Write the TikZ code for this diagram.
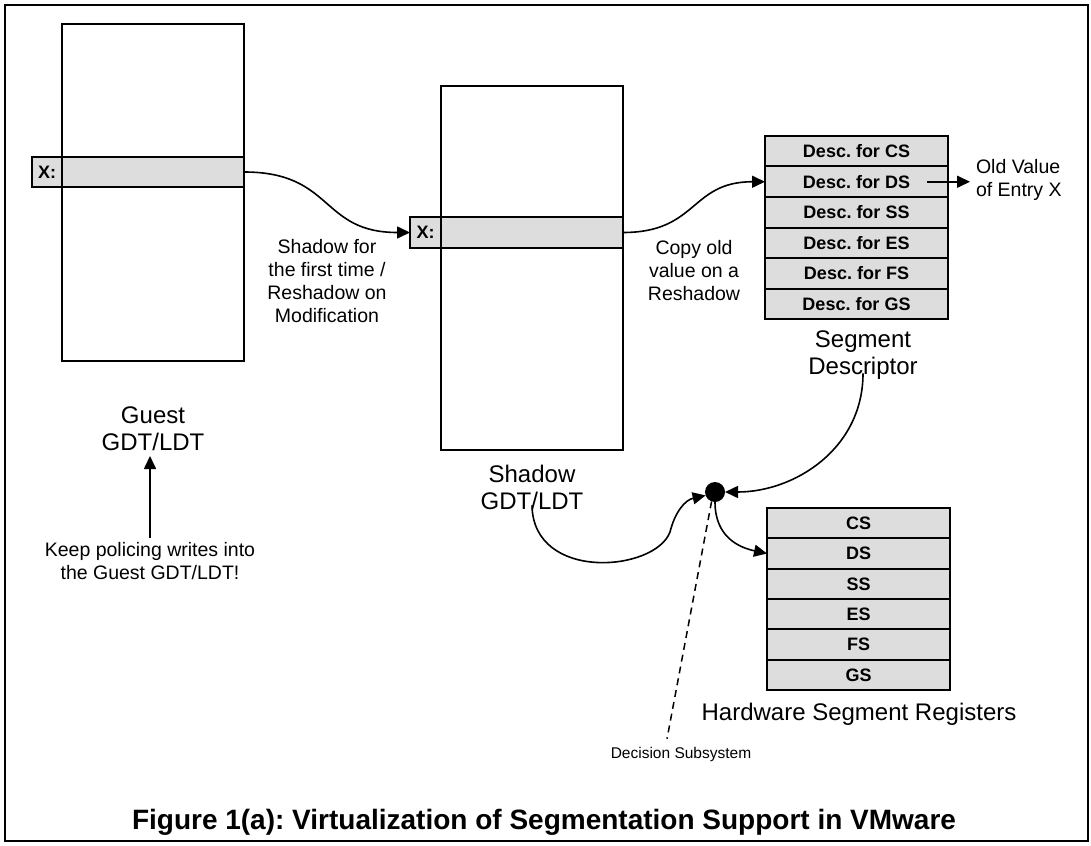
\documentclass[tikz,border=0pt]{standalone}
\usepackage{fontspec}
\setmainfont{Liberation Sans}
\usetikzlibrary{arrows.meta,calc}
\definecolor{rowgray}{HTML}{DDDDDD}
\begin{document}
\begin{tikzpicture}[x=1pt,y=-1pt,
  every node/.style={inner sep=0pt,outer sep=0pt,execute at begin node=\frenchspacing},
  frame/.style={draw=black,line width=2.5pt},
  tablebox/.style={draw=black,line width=2pt,minimum width=182pt},
  cell/.style={draw=black,line width=2pt,fill=rowgray,
    font=\fontsize{18}{20}\selectfont\bfseries},
  big/.style={font=\fontsize{24}{27}\selectfont,align=center},
  small/.style={font=\fontsize{19.5}{23}\selectfont,align=center},
  link/.style={line width=1.6pt,-{Triangle[length=13pt,width=12pt]}},
  dashlink/.style={line width=1.5pt,dash pattern=on 7pt off 5pt}]
\useasboundingbox (0,0) rectangle (1091,845);
\draw[frame] (5,5) rectangle (1088,841);

% guest table with entry X
\node[tablebox,minimum height=337pt] (guest) at (153,192.5) {};
\node[cell,minimum width=30pt,minimum height=30pt] (gx) at (47,172) {X:};
\node[cell,minimum width=182pt,minimum height=30pt] (gxrow) at (153,172) {};
\node[big] (glbl) at (153,429) {Guest\\GDT/LDT};
\node[small] (keep) at (150,561) {Keep policing writes into\\the Guest GDT/LDT!};

% shadow table with entry X
\node[tablebox,minimum height=364pt] (shadow) at (532,268) {};
\node[cell,minimum width=31pt,minimum height=31pt] (sx) at (425.5,232.5) {X:};
\node[cell,minimum width=182pt,minimum height=31pt] (sxrow) at (532,232.5) {};
\node[big] (slbl) at (532,487) {Shadow\\GDT/LDT};

% segment descriptor cache
\foreach \s [count=\i] in {CS,DS,SS,ES,FS,GS}
  \node[cell,minimum width=183pt,minimum height=30.5pt] (d\i)
    at (856.5,{136+30.5*(\i-0.5)}) {Desc. for \s};
\node[big] (sdlbl) at (863,355) {Segment\\Descriptor};

% hardware segment registers
\foreach \s [count=\i] in {CS,DS,SS,ES,FS,GS}
  \node[cell,minimum width=183pt,minimum height=30.33pt] (r\i)
    at (858.5,{508+30.33*(\i-0.5)}) {\s};
\node[big] (hwlbl) at (859,714) {Hardware Segment Registers};

% decision point
\node[circle,fill=black,minimum size=20pt] (dot) at (715,492) {};
\node[small,font=\fontsize{15.5}{18}\selectfont] (dec) at (681,754) {Decision Subsystem};

% labels on the connectors
\node[small] (shlbl) at (327,281.5) {Shadow for\\the first time /\\Reshadow on\\Modification};
\node[small] (cplbl) at (694,270.5) {Copy old\\value on a\\Reshadow};
\node[small,anchor=west,align=left] (old) at (976,179.5) {Old Value\\of Entry X};

% connectors
\draw[link] (gxrow.east) .. controls +(90,0) and +(-90,0) .. (sx.west);
\draw[link] (sxrow.east) .. controls +(75,0) and +(-75,0) .. (d2.west);
\draw[link,shorten >=6pt] ([xshift=-21pt]d2.east) -- (d2.east -| old.west);
\draw[link,shorten <=4pt,shorten >=5pt] (keep.north) -- (keep.north |- glbl.south);
\draw[link] ([yshift=6pt]sdlbl.south) .. controls +(0,75) and +(70,0) .. (dot.east);
\draw[link] (dot.south) .. controls +(0,35) and +(-28,-6) .. (r2.west);
\draw[link] ([yshift=4pt]slbl.south) .. controls (533,582) and (655,572) .. (670,532)
  .. controls (675,512) and (685,500) .. (dot.200);
\draw[dashlink] (dot.250) -- ([xshift=-14pt,yshift=8pt]dec.north);

\node[font=\fontsize{28}{30}\selectfont\bfseries] (title) at (544,822)
  {Figure 1(a): Virtualization of Segmentation Support in VMware};
\end{tikzpicture}
\end{document}
